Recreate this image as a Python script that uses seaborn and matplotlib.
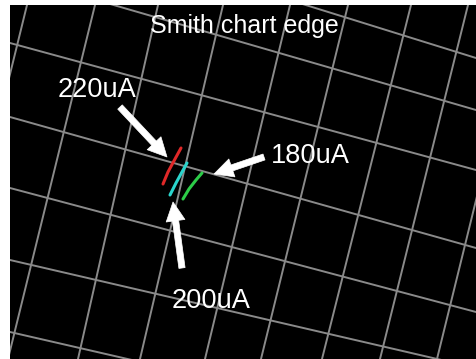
import numpy as np
import pandas as pd
import matplotlib
matplotlib.use("Agg")
import matplotlib.pyplot as plt
import seaborn as sns

# Grid of constant-resistance / constant-reactance arcs near the chart rim,
# each approximated by a straight segment in screen coordinates.
# "Vertical" arcs: x where they cross the top (y=5) and bottom (y=359).
vert_x_top = [27, 95, 158, 223, 290, 348, 411, 468, 524]
vert_x_bottom = [-60, 8, 78, 140, 205, 261, 322, 380, 437]
# "Horizontal" arcs: y where they cross the left (x=10) and right (x=476).
horiz_y_left = [-87, -25, 43, 117, 188, 260, 332]
horiz_y_right = [58, 110, 170, 248, 312, 368, 439]

# Measured reflection traces for three bias currents
bias_labels = ["220uA", "200uA", "180uA"]
trace_220_x = [163, 168, 175, 181]
trace_220_y = [184, 172, 159, 148]
trace_200_x = [170, 176, 182, 187]
trace_200_y = [195, 183, 172, 163]
trace_180_x = [183, 189, 196, 202]
trace_180_y = [199, 189, 180, 173]
trace_colors = ["#e02828", "#2ad4cc", "#2ccc48"]

# Annotation text, arrow tails and tips
title_text = "Smith chart edge"
label_pos = {"220uA": (58, 97), "180uA": (271, 163), "200uA": (172, 308)}
arrow_tail = {"220uA": (120, 107), "180uA": (264, 157), "200uA": (182, 268)}
arrow_tip = {"220uA": (167, 157), "180uA": (214, 174), "200uA": (173, 202)}

sns.set_theme(style="dark")
plt.rcParams["font.family"] = ["Liberation Sans", "DejaVu Sans"]

W, H = 476, 359
fig = plt.figure(figsize=(W / 100, H / 100), dpi=100, facecolor="white")
ax = fig.add_axes([10 / W, 0, (W - 10) / W, (H - 5) / H])
ax.set_facecolor("black")

# grid arcs
grid_rows = []
for i, (xt, xb) in enumerate(zip(vert_x_top, vert_x_bottom)):
    grid_rows += [("v%d" % i, xt, 5), ("v%d" % i, xb, 359)]
for i, (yl, yr) in enumerate(zip(horiz_y_left, horiz_y_right)):
    grid_rows += [("h%d" % i, 10, yl), ("h%d" % i, 476, yr)]
grid = pd.DataFrame(grid_rows, columns=["arc", "x", "y"])
sns.lineplot(data=grid, x="x", y="y", units="arc", estimator=None, sort=False,
             color="#8a8a8a", linewidth=1.4, ax=ax, legend=False)

# traces
rows = []
for lab, xs, ys in zip(bias_labels,
                       [trace_220_x, trace_200_x, trace_180_x],
                       [trace_220_y, trace_200_y, trace_180_y]):
    rows += [(lab, x, y) for x, y in zip(xs, ys)]
traces = pd.DataFrame(rows, columns=["bias", "x", "y"])
sns.lineplot(data=traces, x="x", y="y", hue="bias", palette=trace_colors,
             estimator=None, sort=False, linewidth=2.2, ax=ax, legend=False)

# labels and arrows
ax.text(150, 33, title_text, color="white", fontsize=18, ha="left", va="baseline")
for lab in bias_labels:
    lx, ly = label_pos[lab]
    ax.text(lx, ly, lab, color="white", fontsize=19.6, ha="left", va="baseline")
    ax.annotate("", xy=arrow_tip[lab], xytext=arrow_tail[lab],
                arrowprops=dict(arrowstyle="simple,head_length=0.85,head_width=0.85,tail_width=0.28",
                                fc="white", ec="white", lw=0.5, mutation_scale=16,
                                shrinkA=0, shrinkB=0))

ax.set_xlim(10, 476)
ax.set_ylim(359, 5)
ax.set_xticks([])
ax.set_yticks([])
ax.set_xlabel("")
ax.set_ylabel("")
for s in ax.spines.values():
    s.set_visible(False)

fig.savefig("out.png", dpi=100, facecolor="white")
